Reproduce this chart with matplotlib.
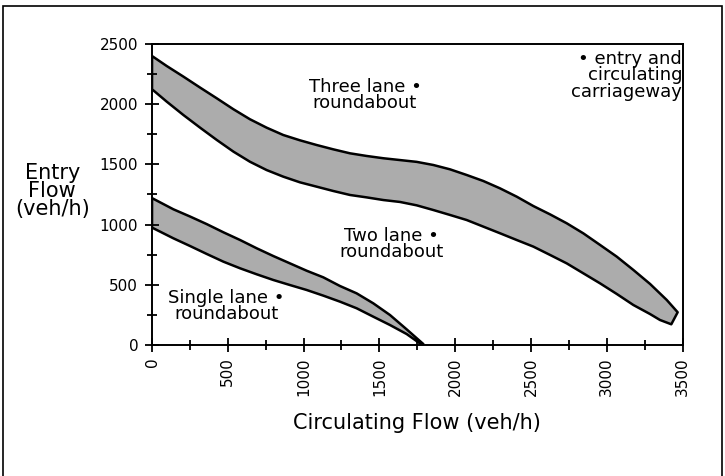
import matplotlib.pyplot as plt
from matplotlib.patches import Rectangle
from matplotlib.ticker import MultipleLocator

# Three lane roundabout band (veh/h)
three_upper_x = [0, 97, 207, 317, 427, 537, 646, 756, 866, 976, 1086, 1196, 1306, 1416, 1526, 1636,
                 1746, 1856, 1966, 2076, 2186, 2296, 2406, 2516, 2626, 2736, 2846, 2956, 3066, 3176,
                 3286, 3396, 3468]
three_upper_y = [2400, 2317, 2229, 2138, 2049, 1958, 1875, 1805, 1744, 1700, 1661, 1625, 1592, 1570,
                 1551, 1536, 1521, 1495, 1459, 1412, 1362, 1301, 1232, 1154, 1085, 1011, 927, 831,
                 734, 623, 507, 374, 272]
three_lower_x = [0, 97, 207, 317, 427, 537, 646, 756, 866, 976, 1086, 1196, 1306, 1416, 1526, 1636,
                 1746, 1856, 1966, 2076, 2186, 2296, 2406, 2516, 2626, 2736, 2846, 2956, 3066, 3176,
                 3286, 3351, 3426]
three_lower_y = [2124, 2021, 1910, 1805, 1703, 1606, 1522, 1453, 1398, 1351, 1315, 1279, 1246, 1226,
                 1204, 1188, 1160, 1121, 1080, 1038, 983, 928, 872, 817, 748, 678, 595, 512, 424, 332,
                 257, 208, 172]

# Single lane roundabout band (veh/h)
single_upper_x = [0, 141, 251, 361, 471, 581, 691, 800, 910, 1020, 1130, 1240, 1350, 1460, 1570,
                  1680, 1790]
single_upper_y = [1220, 1127, 1067, 1004, 936, 872, 803, 739, 678, 617, 562, 490, 429, 346, 249,
                  130, 8]
single_lower_x = [0, 141, 251, 361, 471, 581, 691, 800, 910, 1020, 1130, 1240, 1350, 1460, 1570,
                  1680, 1780]
single_lower_y = [975, 886, 822, 756, 692, 637, 587, 540, 498, 457, 410, 360, 305, 235, 166, 91, 2]

xticks = [0, 500, 1000, 1500, 2000, 2500, 3000, 3500]
yticks = [0, 500, 1000, 1500, 2000, 2500]

band_color = '#acacac'

fig = plt.figure(figsize=(7.25, 4.76), dpi=100)
ax = fig.add_axes([0.2097, 0.2752, 0.7317, 0.6324])

# bands as closed polygons: upper edge then lower edge reversed
for ux, uy, lx, ly in [(three_upper_x, three_upper_y, three_lower_x, three_lower_y),
                       (single_upper_x, single_upper_y, single_lower_x, single_lower_y)]:
    px = list(ux) + list(lx[::-1])
    py = list(uy) + list(ly[::-1])
    ax.fill(px, py, facecolor=band_color, edgecolor='black', linewidth=1.8, joinstyle='round')

ax.set_xlim(0, 3500)
ax.set_ylim(0, 2500)
ax.set_xticks(xticks)
ax.set_yticks(yticks)
ax.xaxis.set_minor_locator(MultipleLocator(250))
ax.yaxis.set_minor_locator(MultipleLocator(250))
ax.tick_params(axis='both', which='both', direction='inout', width=1.3)
ax.tick_params(axis='both', which='major', length=10, labelsize=11)
ax.tick_params(axis='both', which='minor', length=7)
ax.tick_params(axis='x', labelrotation=90, pad=4)
ax.tick_params(axis='y', pad=5)
for s in ax.spines.values():
    s.set_linewidth(1.4)

ax.set_xlabel('Circulating Flow (veh/h)', fontsize=15, labelpad=12)
fig.text(0.072, 0.598, 'Entry\nFlow\n(veh/h)', fontsize=15, ha='center', va='center',
         multialignment='center', linespacing=0.88)

lbl = dict(fontsize=13, ha='center', va='center', multialignment='center', linespacing=0.92)
ax.text(1405, 2076, 'Three lane \u2022\nroundabout', **lbl)
ax.text(1577, 839, 'Two lane \u2022\nroundabout', **lbl)
ax.text(490, 324, 'Single lane \u2022\nroundabout', **lbl)
ax.text(3498, 2450, '\u2022 entry and\ncirculating\ncarriageway', fontsize=13, ha='right', va='top',
        multialignment='right', linespacing=0.88)

# outer frame around the whole figure
fig.patches.append(Rectangle((0.004, -0.02), 0.992, 1.008, transform=fig.transFigure,
                             fill=False, edgecolor='black', linewidth=1.2))

fig.savefig('out.png', dpi=100)
